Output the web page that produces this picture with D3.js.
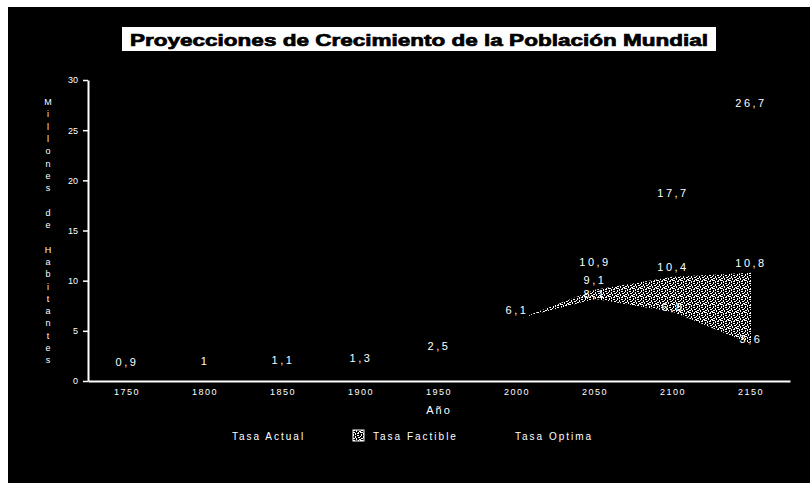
<!DOCTYPE html>
<html>
<head>
<meta charset="utf-8">
<script src="https://cdn.jsdelivr.net/npm/d3@7"></script>
<style>
  html, body { margin: 0; padding: 0; background: #fff; }
  svg { display: block; }
  text { font-family: "Liberation Sans", Arial, sans-serif; fill: #fff; }
</style>
</head>
<body>
<svg id="chart" width="810" height="483"></svg>
<script>
// World population projections (thousands of millions)
const years = ["1750", "1800", "1850", "1900", "1950", "2000", "2050", "2100", "2150"];
const tasaActual   = [0.9, 1, 1.1, 1.3, 2.5, 6.1, 10.9, 17.7, 26.7];
const tasaFactible = [0.9, 1, 1.1, 1.3, 2.5, 6.1, 9.1, 10.4, 10.8];
const tasaOptima   = [0.9, 1, 1.1, 1.3, 2.5, 6.1, 8.1, 6.8, 3.6];
const seriesNames  = ["Tasa Actual", "Tasa Factible", "Tasa Optima"];
const yTicks = [0, 5, 10, 15, 20, 25, 30];
const titleText = "Proyecciones de Crecimiento de la Población Mundial";
const yTitle = "Millones de Habitantes";
const xTitle = "Año";

const svg = d3.select("#chart");

// page frame: white margin, black chart area
svg.append("rect").attr("x", 0).attr("y", 0).attr("width", 810).attr("height", 483).attr("fill", "#fff");
svg.append("rect").attr("x", 8).attr("y", 7).attr("width", 802).attr("height", 476).attr("fill", "#000");

// speckled fill used for the feasible-rate area
const defs = svg.append("defs");
const pat = defs.append("pattern").attr("id", "speckle")
  .attr("patternUnits", "userSpaceOnUse").attr("width", 8).attr("height", 8);
pat.append("rect").attr("width", 8).attr("height", 8).attr("fill", "#000");
[[0,0,2,1],[6,0,1,2],[3,1,1,2],[1,2,1,2],[5,3,2,1],[0,4,1,1],[3,4,1,2],[6,5,2,1],
 [1,6,2,1],[4,6,1,2],[7,7,1,1],[0,7,1,1],[2,0,1,1],[5,1,1,1]].forEach(r => {
  pat.append("rect").attr("x", r[0]).attr("y", r[1]).attr("width", r[2]).attr("height", r[3]).attr("fill", "#fff");
});

const x = d3.scaleBand().domain(years).range([88, 790]);
const cx = d => x(d) + x.bandwidth() / 2;
const y = d3.scaleLinear().domain([0, 30]).range([381, 80]);

const series = [
  { name: seriesNames[0], values: tasaActual,   fill: "#000", labelDy: -6 },
  { name: seriesNames[1], values: tasaFactible, fill: "url(#speckle)", labelDy: -6 },
  { name: seriesNames[2], values: tasaOptima,   fill: "#000", labelDy: -2 }
];

const area = d3.area()
  .x((v, i) => cx(years[i]))
  .y0(y(0))
  .y1(v => y(v));

// areas drawn back to front; black areas get a black edge so the
// patterned area underneath does not bleed through where they coincide
svg.append("g").selectAll("path").data(series).join("path")
  .attr("d", s => area(s.values))
  .attr("fill", s => s.fill)
  .attr("stroke", s => s.fill === "#000" ? "#000" : "none")
  .attr("stroke-width", 1.6);

// y axis
const yAxis = svg.append("g").attr("transform", "translate(88,0)")
  .call(d3.axisLeft(y).tickValues(yTicks).tickSize(5).tickPadding(5).tickSizeOuter(0));
yAxis.select(".domain").attr("stroke", "#fff").attr("stroke-width", 2);
yAxis.selectAll(".tick line").attr("stroke", "#fff").attr("stroke-width", 1.5);
yAxis.selectAll(".tick text").attr("fill", "#fff").style("font-size", "9px")
  .style("font-family", "\"Liberation Sans\", Arial, sans-serif");

// x axis
const xAxis = svg.append("g").attr("transform", "translate(0,381)")
  .call(d3.axisBottom(x).tickSize(0).tickPadding(8).tickSizeOuter(0));
xAxis.select(".domain").attr("stroke", "#fff").attr("stroke-width", 2);
xAxis.selectAll(".tick text").attr("fill", "#fff").style("font-size", "9px")
  .style("letter-spacing", "1.5px")
  .style("font-family", "\"Liberation Sans\", Arial, sans-serif");

// value labels (one per distinct value at each year)
const fmt = v => String(v).replace(".", ",");
const labels = [];
series.forEach((s, si) => {
  s.values.forEach((v, i) => {
    const dup = series.slice(0, si).some(p => p.values[i] === v);
    if (!dup) labels.push({ year: years[i], v, dy: s.labelDy });
  });
});
svg.append("g").selectAll("text").data(labels).join("text")
  .attr("x", d => cx(d.year))
  .attr("y", d => y(d.v) + d.dy)
  .attr("text-anchor", "middle")
  .style("font-size", "11px")
  .style("letter-spacing", "2.5px")
  .text(d => fmt(d.v));

// axis titles
svg.append("text").attr("x", 439).attr("y", 414).attr("text-anchor", "middle")
  .style("font-size", "11px").style("letter-spacing", "2px").text(xTitle);

const yt = svg.append("text").attr("text-anchor", "middle").style("font-size", "9px");
yTitle.split("").forEach((ch, i) => {
  yt.append("tspan").attr("x", 48).attr("y", 105 + i * 12.3).text(ch === " " ? "\u00a0" : ch);
});

// title box
svg.append("rect").attr("x", 122).attr("y", 27).attr("width", 594).attr("height", 24).attr("fill", "#fff");
svg.append("text").attr("x", 419).attr("y", 45.5).attr("text-anchor", "middle")
  .style("font-size", "17px").style("font-weight", "900").style("fill", "#000")
  .style("stroke", "#000").style("stroke-width", "0.7px")
  .attr("textLength", 578).attr("lengthAdjust", "spacingAndGlyphs")
  .text(titleText);

// legend
const legendItems = [
  { name: seriesNames[0], fill: "#000", kx: 214, tx: 232 },
  { name: seriesNames[1], fill: "url(#speckle)", kx: 353, tx: 373 },
  { name: seriesNames[2], fill: "#000", kx: 496, tx: 515 }
];
const lg = svg.append("g");
lg.selectAll("rect").data(legendItems).join("rect")
  .attr("x", d => d.kx).attr("y", 430).attr("width", 11).attr("height", 11)
  .attr("fill", d => d.fill)
  .attr("stroke", d => d.fill === "#000" ? "none" : "#fff").attr("stroke-width", 1);
lg.selectAll("text").data(legendItems).join("text")
  .attr("x", d => d.tx).attr("y", 440)
  .style("font-size", "10px").style("letter-spacing", "2px")
  .text(d => d.name);
</script>
</body>
</html>
